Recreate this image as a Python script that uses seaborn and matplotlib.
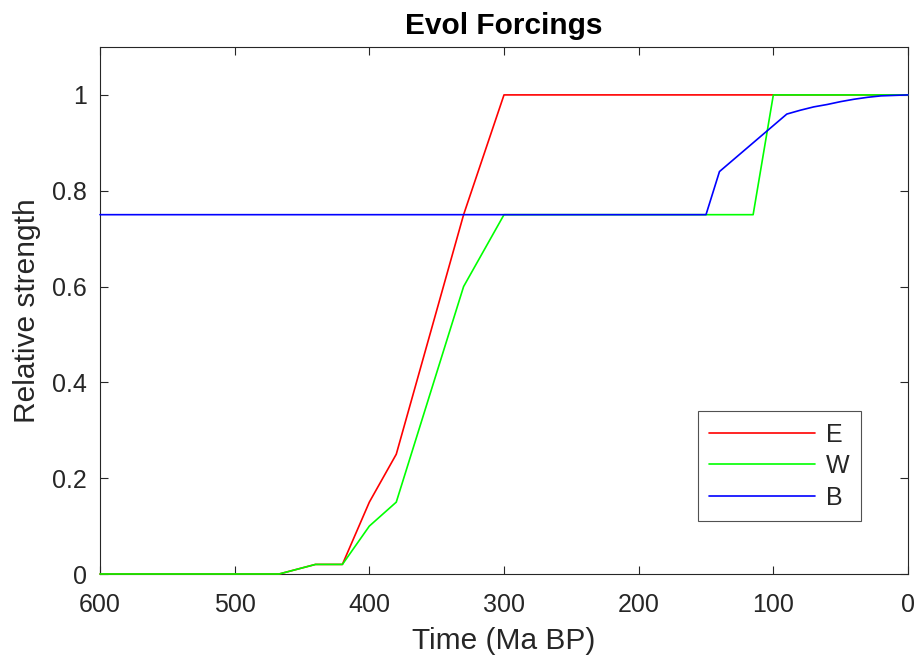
import numpy as np
import pandas as pd
import matplotlib
matplotlib.use("Agg")
import matplotlib.pyplot as plt
import seaborn as sns

# Data
e_time = [600, 467, 440, 420, 400, 380, 330, 300, 0]
e_val = [0.0, 0.0, 0.02, 0.02, 0.15, 0.25, 0.75, 1.0, 1.0]

w_time = [600, 467, 440, 420, 400, 380, 330, 300, 115, 100, 0]
w_val = [0.0, 0.0, 0.02, 0.02, 0.10, 0.15, 0.60, 0.75, 0.75, 1.0, 1.0]

b_time = [600, 150, 140, 90, 80, 70, 60, 50, 40, 30, 20, 10, 0]
b_val = [0.75, 0.75, 0.84, 0.96, 0.968, 0.975, 0.980, 0.986, 0.991, 0.995, 0.998, 0.999, 1.0]

series_names = ["E", "W", "B"]
series_colors = ["#ff0000", "#00ff00", "#0000ff"]

x_ticks = [600, 500, 400, 300, 200, 100, 0]
y_ticks = [0, 0.2, 0.4, 0.6, 0.8, 1.0]
y_tick_labels = ["0", "0.2", "0.4", "0.6", "0.8", "1"]

frames = []
for name, t, v in zip(series_names, [e_time, w_time, b_time], [e_val, w_val, b_val]):
    frames.append(pd.DataFrame({"time": t, "value": v, "series": name}))
df = pd.concat(frames, ignore_index=True)

sns.set_theme(style="white")
plt.rcParams["font.family"] = ["Liberation Sans", "DejaVu Sans"]
text_col = "#262626"

fig = plt.figure(figsize=(9.15, 6.61), dpi=100)
ax = fig.add_axes([100 / 915, 1 - 574 / 661, 808 / 915, 527 / 661])

sns.lineplot(data=df, x="time", y="value", hue="series", hue_order=series_names,
             palette=dict(zip(series_names, series_colors)), estimator=None,
             sort=False, linewidth=1.2, ax=ax, legend=False, zorder=3, clip_on=False)

ax.set_xlim(600, 0)
ax.set_ylim(0, 1.1)
ax.set_xticks(x_ticks)
ax.set_xticklabels([str(t) for t in x_ticks])
ax.set_yticks(y_ticks)
ax.set_yticklabels(y_tick_labels)

for s in ax.spines.values():
    s.set_visible(True)
    s.set_color(text_col)
    s.set_linewidth(0.8)
    s.set_zorder(2.5)

ax.tick_params(axis="both", which="major", direction="in", length=6, width=0.8,
               color=text_col, labelcolor=text_col, labelsize=18, top=True, right=True,
               bottom=True, left=True)
ax.tick_params(axis="x", pad=14)
ax.tick_params(axis="y", pad=9.5)

ax.set_xlabel("Time (Ma BP)", fontsize=21.5, color=text_col, labelpad=7)
ax.set_ylabel("Relative strength", fontsize=21.5, color=text_col, labelpad=8)
ax.set_title("Evol Forcings", fontsize=21.5, fontweight="bold", color="black", pad=9.4)

handles = [plt.Line2D([], [], color=c, linewidth=1.2) for c in series_colors]
leg = ax.legend(handles, series_names, loc="lower right", bbox_to_anchor=(0.942, 0.1006),
                fontsize=18, frameon=True, fancybox=False, edgecolor=text_col,
                handlelength=4.25, handletextpad=0.45, labelspacing=0.3,
                borderpad=0.45, borderaxespad=0)
leg.get_frame().set_linewidth(0.8)
for t in leg.get_texts():
    t.set_color(text_col)

fig.savefig("out.png", dpi=100, facecolor="white")
